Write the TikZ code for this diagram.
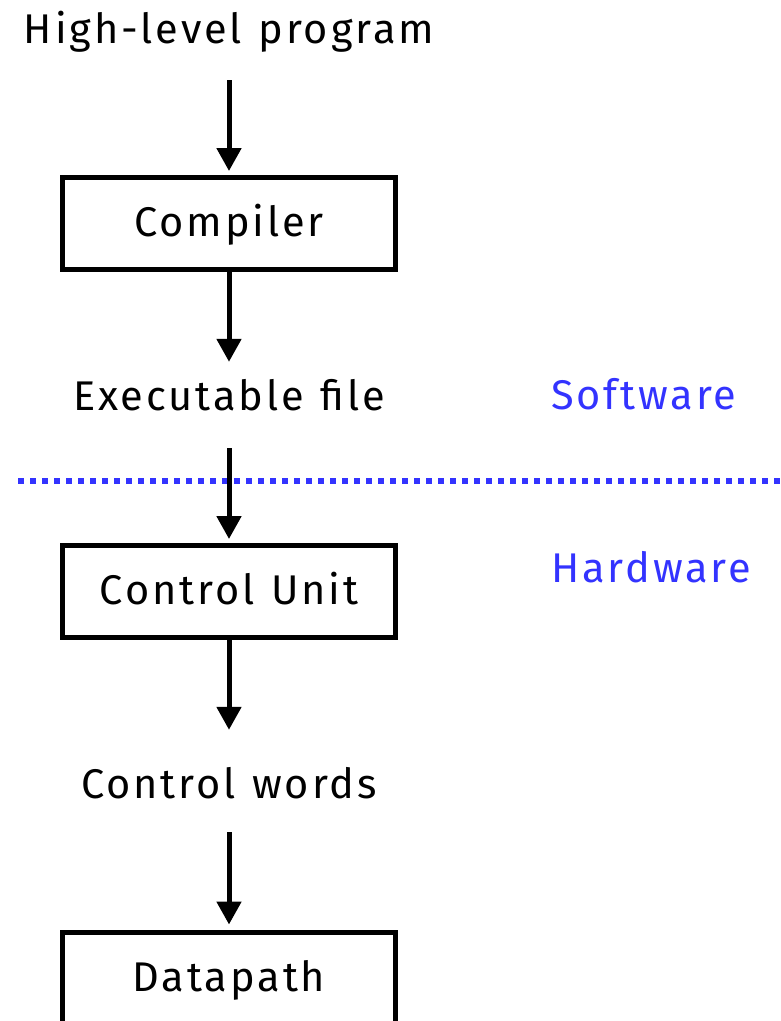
\documentclass[tikz,border=0pt]{standalone}
\usepackage{fontspec}
\setmainfont{Fira Sans}[LetterSpace=7, WordSpace=1.2]
\usetikzlibrary{arrows.meta}
\definecolor{layerblue}{RGB}{51,51,255}
\tikzset{
  txt/.style={font=\fontsize{41.5}{48}\selectfont},
  label/.style={txt, anchor=base, inner sep=0pt, text height=27pt, text depth=0pt},
  stage/.style={txt, draw, line width=5pt, minimum width=333pt, minimum height=92pt,
    inner sep=0pt, text height=32pt, text depth=6pt},
  layer/.style={txt, text=layerblue, anchor=base west, inner sep=0pt},
  flow/.style={line width=5pt, -{Triangle[width=24pt,length=23pt]}},
  divider/.style={draw=layerblue, line width=6pt, dash pattern=on 6pt off 6pt}
}
\begin{document}
\begin{tikzpicture}[x=1pt,y=-1pt]
\useasboundingbox (0,0) rectangle (780,1021);

% software / hardware boundary
\coordinate (divL) at (18,481);
\coordinate (divR) at (782,481);
\draw[divider] (divL) -- (divR);

\node[layer] (sw) at (551,409) {Software};
\node[layer] (hw) at (551,582) {Hardware};

% the translation chain
\node[label] (hl) at (229,43) {High-level program};
\node[stage] (comp) at (229,223.5) {Compiler};
\node[label] (exe) at (229,410) {Executable file};
\node[stage] (cu) at (229,591.5) {Control Unit};
\node[label] (cw) at (229,798) {Control words};
\node[stage] (dp) at (229,978) {Datapath};

\draw[flow, shorten <=37pt, shorten >=4pt] (hl) -- (comp);
\draw[flow, shorten >=21pt] (comp) -- (exe);
\draw[flow, shorten <=38pt, shorten >=4pt] (exe) -- (cu);
\draw[flow, shorten >=41pt] (cu) -- (cw);
\draw[flow, shorten <=34pt, shorten >=5pt] (cw) -- (dp);
\end{tikzpicture}
\end{document}
